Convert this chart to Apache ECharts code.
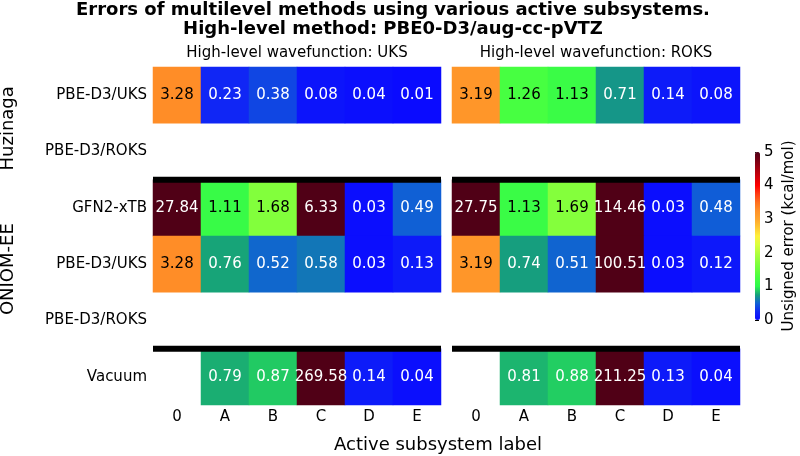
<!DOCTYPE html>
<html>
<head>
<meta charset="utf-8">
<script src="https://cdn.jsdelivr.net/npm/echarts@6/dist/echarts.min.js"></script>
<style>
  html, body { margin: 0; padding: 0; background: #fff; }
  #chart { width: 800px; height: 456px; }
</style>
</head>
<body>
<div id="chart"></div>
<script>
// categories
const columns = ["0", "A", "B", "C", "D", "E"];
const rowLabels = ["PBE-D3/UKS", "PBE-D3/ROKS", "GFN2-xTB", "PBE-D3/UKS", "PBE-D3/ROKS", "Vacuum"];
const groups = [
  { name: "Huzinaga", first: 0, count: 2 },
  { name: "ONIOM-EE", first: 2, count: 3 },
];
// thick black lines drawn before these rows
const separators = [2, 5];
const panelTitles = ["High-level wavefunction: UKS", "High-level wavefunction: ROKS"];
const cbTicks = [0, 1, 2, 3, 4, 5];

// values (null = no data)
const uksValues = [
  [3.28, 0.23, 0.38, 0.08, 0.04, 0.01],
  [null, null, null, null, null, null],
  [27.84, 1.11, 1.68, 6.33, 0.03, 0.49],
  [3.28, 0.76, 0.52, 0.58, 0.03, 0.13],
  [null, null, null, null, null, null],
  [null, 0.79, 0.87, 269.58, 0.14, 0.04],
];
const roksValues = [
  [3.19, 1.26, 1.13, 0.71, 0.14, 0.08],
  [null, null, null, null, null, null],
  [27.75, 1.13, 1.69, 114.46, 0.03, 0.48],
  [3.19, 0.74, 0.51, 100.51, 0.03, 0.12],
  [null, null, null, null, null, null],
  [null, 0.81, 0.88, 211.25, 0.13, 0.04],
];

const vmin = 0, vmax = 5;
// colour stops, evenly spaced over 0..5
const cmap = [
  "#0a0aff", "#1028f4", "#1062d4", "#16a07a", "#2df84b",
  "#46ff41", "#69ff3c", "#8cff3c", "#b4ff3c", "#dcff3c",
  "#fff03c", "#ffc832", "#ffa52d", "#ff9128", "#ff6e1e",
  "#ff3c14", "#ff0000", "#d2000a", "#a5000f", "#780014", "#500016",
];

const FONT = "DejaVu Sans";
const grids = [
  { left: 153, top: 67, width: 288, height: 338 },
  { left: 452, top: 67, width: 288, height: 338 },
  { left: 755, top: 152, width: 5, height: 168 },
];
const rowH = grids[0].height / rowLabels.length;

function cells(values) {
  const out = [];
  values.forEach((row, r) => {
    row.forEach((v, c) => {
      if (v == null) return;
      const dark = v >= 1 && v < 3.5;
      out.push({
        value: [c, r, Math.min(v, vmax), v],
        label: { color: dark ? "#000" : "#fff" },
      });
    });
  });
  return out;
}

const xAxes = [], yAxes = [], series = [];
[uksValues, roksValues].forEach((vals, i) => {
  xAxes.push({
    type: "category", gridIndex: i, data: columns,
    axisLine: { show: false }, axisTick: { show: false },
    axisLabel: { fontFamily: FONT, fontSize: 15, color: "#000", margin: 5 },
  });
  yAxes.push({
    type: "category", gridIndex: i, data: rowLabels.map((_, k) => "r" + k), inverse: true,
    axisLine: { show: false }, axisTick: { show: false },
    axisLabel: {
      show: i === 0, fontFamily: FONT, fontSize: 15, color: "#000", margin: 6,
      formatter: (val, idx) => rowLabels[idx],
    },
  });
  series.push({
    type: "heatmap", xAxisIndex: i, yAxisIndex: i,
    data: cells(vals),
    label: {
      show: true, fontFamily: FONT, fontSize: 15,
      formatter: (p) => p.value[3].toFixed(2),
    },
    emphasis: { disabled: true },
  });
});
// hidden value axes for the separator lines
[0, 1].forEach((i) => {
  xAxes.push({ type: "value", gridIndex: i, min: 0, max: columns.length, show: false });
  yAxes.push({ type: "value", gridIndex: i, min: 0, max: rowLabels.length, inverse: true, show: false });
  separators.forEach((s) => {
    series.push({
      type: "line", xAxisIndex: 2 + i, yAxisIndex: 2 + i, silent: true, z: 10,
      symbol: "none", data: [[0, s], [columns.length, s]],
      lineStyle: { color: "#000", width: 6, cap: "butt" },
    });
  });
});
// colorbar axis
xAxes.push({ type: "value", gridIndex: 2, show: false });
yAxes.push({
  type: "value", gridIndex: 2, position: "right", min: vmin, max: vmax, interval: 1,
  axisLine: { show: false },
  axisTick: { show: true, length: 4, lineStyle: { color: "#000" } },
  splitLine: { show: false },
  axisLabel: { fontFamily: FONT, fontSize: 15, color: "#000", margin: 4 },
  name: "Unsigned error (kcal/mol)", nameLocation: "middle", nameRotate: 90, nameGap: 22,
  nameTextStyle: { fontFamily: FONT, fontSize: 15, color: "#000" },
});

const graphic = [
  {
    type: "text", x: 393, y: 1,
    style: {
      text: "Errors of multilevel methods using various active subsystems.\nHigh-level method: PBE0-D3/aug-cc-pVTZ",
      font: "bold 18px " + FONT, fill: "#000", textAlign: "center", textVerticalAlign: "top", lineHeight: 19,
    },
  },
  {
    type: "text", x: 438, y: 445,
    style: { text: "Active subsystem label", font: "18px " + FONT, fill: "#000", textAlign: "center", textVerticalAlign: "middle" },
  },
];
panelTitles.forEach((t, i) => {
  graphic.push({
    type: "text", x: grids[i].left + grids[i].width / 2, y: 53,
    style: { text: t, font: "15px " + FONT, fill: "#000", textAlign: "center", textVerticalAlign: "middle" },
  });
});
groups.forEach((g) => {
  graphic.push({
    type: "text", x: 8, y: grids[0].top + (g.first + g.count / 2) * rowH + 5, rotation: Math.PI / 2,
    style: { text: g.name, font: "18px " + FONT, fill: "#000", textAlign: "center", textVerticalAlign: "middle" },
  });
});

const chart = echarts.init(document.getElementById("chart"), null, { renderer: "canvas" });
chart.setOption({
  animation: false,
  backgroundColor: "#fff",
  grid: grids,
  xAxis: xAxes,
  yAxis: yAxes,
  visualMap: {
    type: "continuous", min: vmin, max: vmax, dimension: 2, seriesIndex: [0, 1],
    left: grids[2].left, top: grids[2].top, itemWidth: grids[2].width, itemHeight: grids[2].height,
    padding: 0, calculable: false, hoverLink: false, text: null, showLabel: false,
    inRange: { color: cmap },
  },
  series: series,
  graphic: graphic,
});
</script>
</body>
</html>
